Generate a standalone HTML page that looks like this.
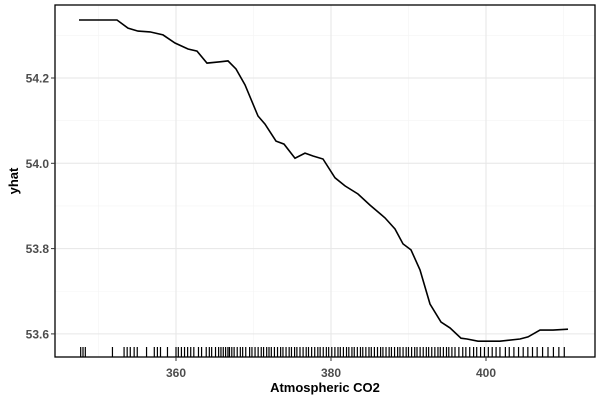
<!DOCTYPE html>
<html><head><meta charset="utf-8"><style>
body{margin:0;background:#fff;}
svg{display:block;font-family:"Liberation Sans",sans-serif;}
</style></head><body>
<svg id="chart" width="600" height="400">
<g id="grid"></g>
<g id="rug"></g>
<path id="line" fill="none" stroke="#000" stroke-width="1.6"/>
<rect x="55" y="5" width="540" height="352" fill="none" stroke="#000" stroke-width="1.3"/>
<g id="axes"></g>
<text x="325" y="392" text-anchor="middle" font-size="13" font-weight="bold">Atmospheric CO2</text>
<text transform="translate(18,181) rotate(-90)" text-anchor="middle" font-size="13" font-weight="bold">yhat</text>
</svg>
<script>
const xVals=[347.48,352.39,353.81,355.10,356.65,358.32,359.87,361.55,362.71,364.0,365.68,366.71,367.74,368.90,370.58,371.48,372.90,373.94,375.35,376.65,377.68,378.97,380.52,381.81,383.48,385.03,386.97,388.26,389.29,390.32,391.48,392.77,394.19,395.35,396.77,397.55,398.97,401.81,404.39,405.42,406.97,408.65,410.58];
const yVals=[54.336,54.336,54.317,54.310,54.308,54.301,54.282,54.268,54.263,54.235,54.238,54.240,54.221,54.184,54.111,54.092,54.052,54.045,54.012,54.024,54.017,54.010,53.966,53.947,53.928,53.902,53.872,53.846,53.811,53.797,53.750,53.670,53.628,53.614,53.590,53.588,53.583,53.583,53.588,53.593,53.609,53.609,53.611];
const rugVals=[347.7,348.0,348.3,351.8,353.3,353.7,354.1,354.6,355.0,356.2,357.2,357.6,358.0,358.9,360.0,360.3,360.7,361.1,361.5,361.9,362.3,362.9,363.3,363.9,364.3,364.6,365.1,365.5,365.8,366.1,366.4,366.7,366.9,367.2,367.5,367.9,368.3,368.6,369.0,369.5,369.8,370.2,370.6,371.0,371.3,371.7,372.0,372.3,372.7,373.1,373.5,373.8,374.2,374.6,374.9,375.3,375.6,376.0,376.4,376.8,377.1,377.5,377.9,378.3,378.6,379.0,379.4,379.7,380.1,380.5,380.9,381.2,381.6,382.0,382.3,382.7,383.0,383.4,383.8,384.1,384.5,384.9,385.2,385.6,386.0,386.4,386.7,387.1,387.5,387.8,388.2,388.6,388.9,389.3,389.7,390.0,390.4,390.8,391.1,391.5,391.9,392.3,392.6,393.0,393.4,393.8,394.1,394.5,394.9,395.2,395.6,396.0,396.5,397.0,397.4,397.9,398.4,398.8,399.3,399.8,400.3,400.8,401.3,401.8,402.5,403.0,403.6,404.2,404.8,405.4,406.0,406.6,407.3,408.0,408.7,409.4,410.1];
const xTicks=[360,380,400];
const xMinor=[350,370,390,410];
const yTicks=[53.6,53.8,54.0,54.2];
const yMinor=[53.7,53.9,54.1,54.3];
const X=v=>176+(v-360)*7.75;
const Y=v=>78-(v-54.2)*426.5;
const NS="http://www.w3.org/2000/svg";
function mk(tag,parent,attrs){const e=document.createElementNS(NS,tag);for(const k in attrs)e.setAttribute(k,attrs[k]);parent.appendChild(e);return e;}
const grid=document.getElementById('grid'),axes=document.getElementById('axes'),rug=document.getElementById('rug');
xMinor.forEach(v=>{const l=mk('line',grid,{x1:X(v),x2:X(v),y1:5,y2:357,stroke:'#f4f4f4','stroke-width':0.6});

});
yMinor.forEach(v=>{const l=mk('line',grid,{x1:55,x2:595,y1:Y(v),y2:Y(v),stroke:'#f4f4f4','stroke-width':0.6});

});
xTicks.forEach(v=>{const l=mk('line',grid,{x1:X(v),x2:X(v),y1:5,y2:357,stroke:'#e6e6e6','stroke-width':1});


const t=mk('line',axes,{x1:X(v),x2:X(v),y1:357,y2:361,stroke:'#333'});


const tx=mk('text',axes,{x:X(v),y:377,'text-anchor':'middle','font-size':12,'font-weight':'bold',fill:'#4d4d4d'});tx.textContent=v;

});
yTicks.forEach(v=>{const l=mk('line',grid,{x1:55,x2:595,y1:Y(v),y2:Y(v),stroke:'#e6e6e6','stroke-width':1});


const t=mk('line',axes,{x1:51,x2:55,y1:Y(v),y2:Y(v),stroke:'#333'});


const tx=mk('text',axes,{x:49,y:Y(v)+4.5,'text-anchor':'end','font-size':12,'font-weight':'bold',fill:'#4d4d4d'});tx.textContent=v.toFixed(1);

});
rugVals.forEach(v=>{const l=mk('line',rug,{x1:X(v),x2:X(v),y1:347,y2:357,stroke:'#000','stroke-width':1.2});

});
document.getElementById('line').setAttribute('d',xVals.map((v,i)=>(i?'L':'M')+X(v).toFixed(1)+','+Y(yVals[i]).toFixed(1)).join(''));
</script>
</body></html>
